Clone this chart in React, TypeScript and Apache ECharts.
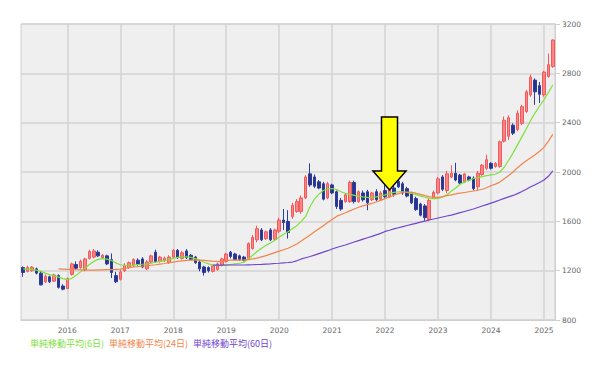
import React, { useEffect, useRef } from 'react';
import * as echarts from 'echarts';

// ---- categories (monthly, 2015/03 .. 2025/03) ----
const startYear = 2015;
const startMonth = 3;
const monthCount = 121;
const months: string[] = [];
for (let k = 0; k < monthCount; k++) {
  const m = startMonth - 1 + k;
  const y = startYear + Math.floor(m / 12);
  const mm = (m % 12) + 1;
  months.push(`${y}/${mm < 10 ? '0' + mm : mm}`);
}

const yTicks = [800, 1200, 1600, 2000, 2400, 2800, 3200];

// ---- OHLC ----
const opens = [
  1225, 1195, 1200, 1215, 1180, 1110, 1150, 1115, 1160, 1075,
  1055, 1170, 1250, 1225, 1205, 1300, 1310, 1350, 1305, 1320, 1290, 1160,
  1130, 1200, 1225, 1245, 1285, 1295, 1215, 1270, 1350, 1275, 1280, 1265,
  1310, 1365, 1300, 1360, 1325, 1310, 1270, 1230, 1225, 1195, 1210, 1245,
  1275, 1350, 1335, 1320, 1310, 1300, 1380, 1450, 1530, 1460, 1530, 1455,
  1520, 1610, 1600, 1640, 1680, 1680, 1790, 1985, 1960, 1920, 1905, 1790,
  1895, 1840, 1770, 1760, 1760, 1915, 1760, 1830, 1840, 1775, 1840, 1780,
  1850, 1800, 1870, 1925, 1905, 1865, 1825, 1785, 1740, 1725, 1615, 1790,
  1830, 1960, 1850, 1960, 1990, 1975, 1920, 1960, 1950, 1880, 1980, 2030,
  2070, 2045, 2045, 2250, 2290, 2380, 2345, 2395, 2490, 2625, 2745, 2700,
  2625, 2775, 2855,
];
const closes = [
  1185, 1225, 1228, 1180, 1085, 1155, 1110, 1165, 1065, 1050,
  1135, 1255, 1220, 1275, 1295, 1355, 1360, 1320, 1325, 1255, 1185, 1110,
  1190, 1245, 1265, 1290, 1250, 1230, 1270, 1320, 1275, 1310, 1300, 1310,
  1365, 1305, 1345, 1305, 1290, 1265, 1215, 1185, 1200, 1240, 1255, 1295,
  1335, 1315, 1290, 1290, 1285, 1420, 1470, 1540, 1450, 1515, 1450, 1530,
  1610, 1590, 1510, 1730, 1760, 1790, 1960, 1895, 1885, 1870, 1780, 1905,
  1830, 1720, 1700, 1815, 1915, 1760, 1840, 1775, 1750, 1830, 1775, 1830,
  1800, 1855, 1820, 1880, 1830, 1805, 1750, 1695, 1650, 1630, 1770, 1835,
  1945, 1860, 1985, 1990, 1935, 1910, 1985, 1935, 1865, 1990, 2055, 2100,
  2030, 2070, 2245, 2420, 2440, 2315, 2475, 2530, 2650, 2770, 2650, 2630,
  2810, 2870, 3070,
];
const lows = [
  1150, 1185, 1190, 1170, 1080, 1100, 1100, 1110, 1055, 1040,
  1050, 1160, 1210, 1215, 1195, 1290, 1300, 1310, 1295, 1245, 1140, 1100,
  1120, 1190, 1215, 1230, 1240, 1220, 1205, 1260, 1265, 1265, 1270, 1255,
  1300, 1295, 1290, 1295, 1285, 1255, 1195, 1160, 1185, 1185, 1200, 1235,
  1265, 1300, 1285, 1280, 1275, 1290, 1370, 1430, 1440, 1450, 1440, 1445,
  1505, 1530, 1460, 1620, 1670, 1660, 1780, 1880, 1870, 1860, 1770, 1780,
  1820, 1700, 1685, 1750, 1750, 1745, 1750, 1760, 1690, 1765, 1765, 1770,
  1790, 1790, 1800, 1870, 1815, 1795, 1740, 1685, 1640, 1605, 1600, 1780,
  1820, 1845, 1830, 1950, 1925, 1900, 1910, 1925, 1850, 1850, 1970, 2015,
  2020, 2035, 2035, 2240, 2260, 2300, 2330, 2380, 2480, 2610, 2545, 2560,
  2610, 2765, 2845,
];
const highs = [
  1235, 1240, 1238, 1225, 1195, 1170, 1160, 1175, 1170, 1090,
  1145, 1265, 1275, 1290, 1305, 1370, 1375, 1365, 1335, 1330, 1340, 1190,
  1205, 1260, 1275, 1300, 1300, 1310, 1285, 1330, 1370, 1320, 1315, 1325,
  1375, 1375, 1360, 1375, 1335, 1320, 1285, 1240, 1235, 1250, 1265, 1305,
  1345, 1360, 1345, 1330, 1320, 1430, 1490, 1565, 1545, 1525, 1545, 1540,
  1630, 1700, 1690, 1750, 1780, 1810, 1975, 2070, 1980, 1935, 1920, 1920,
  1905, 1850, 1790, 1830, 1930, 1930, 1850, 1850, 1855, 1840, 1860, 1845,
  1895, 1870, 1900, 1960, 1920, 1880, 1840, 1800, 1750, 1740, 1790, 1850,
  1960, 1975, 2010, 2055, 2075, 1985, 1990, 1970, 1965, 2010, 2065, 2140,
  2080, 2080, 2255, 2450, 2460, 2395, 2500, 2545, 2665, 2790, 2760, 2730,
  2820, 2960, 3075,
];

// ---- moving averages ----
const ma6 = [
  1215, 1212, 1208, 1205, 1195, 1180, 1168, 1158, 1148, 1135,
  1128, 1138, 1162, 1190, 1220, 1250, 1275, 1292, 1298, 1294, 1282, 1262,
  1248, 1242, 1242, 1245, 1250, 1252, 1255, 1260, 1268, 1275, 1282, 1290,
  1300, 1308, 1312, 1313, 1308, 1298, 1285, 1268, 1255, 1245, 1242, 1242,
  1245, 1250, 1255, 1260, 1268, 1295, 1325, 1355, 1382, 1405, 1425, 1445,
  1470, 1495, 1515, 1540, 1565, 1600, 1640, 1720, 1780, 1820, 1850, 1862,
  1866, 1858, 1840, 1828, 1818, 1810, 1802, 1798, 1795, 1793, 1798, 1806,
  1815, 1825, 1835, 1840, 1840, 1834, 1826, 1816, 1806, 1795, 1786, 1784,
  1786, 1795, 1815, 1845, 1870, 1900, 1920, 1935, 1945, 1955, 1963, 1970,
  1976, 1982, 2000, 2040, 2095, 2155, 2220, 2285, 2350, 2420, 2480, 2535,
  2585, 2645, 2705,
];
const ma24 = [
  null, null, null, null, null, null, null, null, 1215, 1213,
  1211, 1210, 1208, 1207, 1206, 1205, 1205, 1206, 1207, 1208, 1209, 1210,
  1212, 1218, 1224, 1230, 1233, 1237, 1240, 1244, 1248, 1253, 1258, 1264,
  1270, 1276, 1280, 1283, 1285, 1285, 1285, 1283, 1280, 1277, 1275, 1278,
  1282, 1285, 1285, 1286, 1287, 1290, 1295, 1302, 1312, 1322, 1334, 1346,
  1358, 1370, 1382, 1398, 1416, 1440, 1465, 1490, 1515, 1540, 1565, 1590,
  1615, 1640, 1655, 1670, 1685, 1700, 1714, 1725, 1735, 1745, 1757, 1770,
  1784, 1798, 1812, 1825, 1835, 1838, 1835, 1828, 1818, 1808, 1800, 1795,
  1795, 1800, 1808, 1815, 1822, 1828, 1834, 1840, 1846, 1852, 1860, 1872,
  1888, 1902, 1918, 1945, 1972, 2000, 2035, 2065, 2092, 2115, 2140, 2168,
  2200, 2250, 2305,
];
const ma60 = [
  null, null, null, null, null, null, null, null, null, null,
  null, null, null, null, null, null, null, null, null, null, null, null,
  null, null, null, null, null, null, null, null, null, null, null, null,
  null, null, null, null, null, null, null, null, null, 1245, 1245, 1245,
  1246, 1246, 1246, 1246, 1246, 1247, 1248, 1250, 1251, 1253, 1255, 1258,
  1260, 1263, 1266, 1270, 1280, 1295, 1305, 1315, 1326, 1338, 1350, 1362,
  1376, 1388, 1398, 1408, 1420, 1432, 1444, 1456, 1467, 1478, 1490, 1502,
  1518, 1528, 1539, 1548, 1557, 1566, 1575, 1584, 1593, 1602, 1611, 1619,
  1627, 1635, 1643, 1651, 1660, 1670, 1680, 1690, 1700, 1712, 1724, 1736,
  1748, 1760, 1773, 1786, 1798, 1810, 1825, 1842, 1860, 1880, 1897, 1915,
  1935, 1965, 2010,
];

const maNames = ['単純移動平均(6日)', '単純移動平均(24日)', '単純移動平均(60日)'];
const maColors = ['#7fe03c', '#f0854a', '#7145cf'];

// arrow annotation points at this month / price
const arrowMonth = '2022/02';
const arrowValue = 1855;

export default function App() {
  const ref = useRef<HTMLDivElement>(null);

  useEffect(() => {
    if (!ref.current) return;
    const chart = echarts.init(ref.current, undefined, { renderer: 'svg' });
    const ohlc = opens.map((o, i) => [o, closes[i], lows[i], highs[i]]);
    const yearStarts = months.filter((m) => m.endsWith('/01'));
    const axisFont = 'DejaVu Sans';

    chart.setOption({
      animation: false,
      backgroundColor: '#ffffff',
      grid: {
        left: 21,
        right: 45,
        top: 24,
        bottom: 45,
        show: true,
        backgroundColor: '#efefef',
        borderColor: '#cfcfcf',
        borderWidth: 1,
      },
      xAxis: {
        type: 'category',
        data: months,
        boundaryGap: true,
        axisLine: { show: true, lineStyle: { color: '#cfcfcf', width: 1 } },
        axisTick: { show: false },
        axisLabel: {
          interval: (_idx: number, val: string) => val.endsWith('/01'),
          formatter: (val: string) => val.slice(0, 4),
          color: '#666666',
          fontSize: 7.5,
          fontFamily: axisFont,
          margin: 6,
        },
        splitLine: { show: false },
      },
      yAxis: {
        type: 'value',
        position: 'right',
        min: yTicks[0],
        max: yTicks[yTicks.length - 1],
        interval: 400,
        axisLine: { show: true, lineStyle: { color: '#cfcfcf' } },
        axisTick: { show: true, length: 5, lineStyle: { color: '#cfcfcf' } },
        axisLabel: {
          color: '#666666',
          fontSize: 7.5,
          fontFamily: axisFont,
          margin: 7,
          formatter: (v: number) => String(v),
        },
        splitLine: { show: true, lineStyle: { color: '#d3d3d3', width: 1.5 } },
      },
      series: [
        {
          type: 'line',
          name: 'grid',
          data: [],
          silent: true,
          markLine: {
            silent: true,
            z: 1,
            symbol: ['none', 'none'],
            label: { show: false },
            emphasis: { disabled: true },
            lineStyle: { color: '#d3d3d3', type: 'solid', width: 1.5 },
            data: yearStarts.map((m) => ({ xAxis: m })),
          },
        },
        {
          type: 'candlestick',
          name: '株価',
          data: ohlc,
          barWidth: 3,
          itemStyle: {
            color: '#ff8383',
            color0: '#26348f',
            borderColor: '#f05a5a',
            borderColor0: '#2e3d9a',
            borderWidth: 1,
          },
        },
        ...[ma6, ma24, ma60].map((d, k) => ({
          type: 'line',
          name: maNames[k],
          data: d,
          symbol: 'none',
          smooth: false,
          connectNulls: false,
          lineStyle: { color: maColors[k], width: 1.2 },
          itemStyle: { color: maColors[k] },
          z: 3,
        })),
      ],
    });

    const tip = chart.convertToPixel({ xAxisIndex: 0, yAxisIndex: 0 }, [arrowMonth, arrowValue]) as number[];
    const tx = tip[0];
    const ty = tip[1];
    const arrowPts = [
      [tx - 8, ty - 73],
      [tx + 8, ty - 73],
      [tx + 8, ty - 19],
      [tx + 16.5, ty - 19],
      [tx, ty],
      [tx - 16.5, ty - 19],
      [tx - 8, ty - 19],
    ];
    const legendX = [30, 109, 193];

    chart.setOption({
      graphic: [
        {
          type: 'polygon',
          z: 100,
          shape: { points: arrowPts },
          style: { fill: '#ffff00', stroke: '#000000', lineWidth: 1.5 },
        },
        ...maNames.map((n, k) => ({
          type: 'text',
          x: legendX[k],
          y: 343,
          z: 100,
          style: {
            text: n,
            fill: maColors[k],
            fontSize: 9,
            fontFamily: 'Noto Sans CJK JP',
            verticalAlign: 'middle',
          },
        })),
      ],
    });

    return () => chart.dispose();
  }, []);

  return (
    <div
      ref={ref}
      style={{ position: 'absolute', left: 0, top: 0, width: 600, height: 365 }}
    />
  );
}
